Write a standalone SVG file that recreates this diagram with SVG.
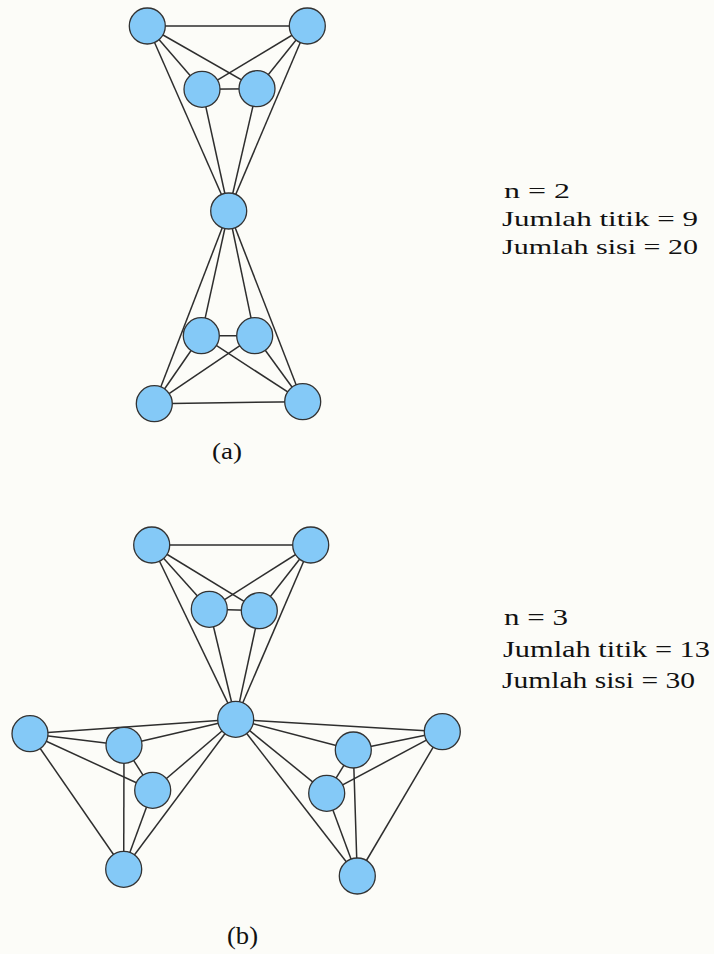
<svg xmlns="http://www.w3.org/2000/svg" width="714" height="954" viewBox="0 0 714 954">
<style>
.e{stroke:#2e2e2e;stroke-width:1.5;fill:none}
.n{fill:#84c9f7;stroke:#333;stroke-width:1.3}
.t{font-family:"Liberation Serif","Times New Roman",serif;fill:#111}
</style>
<rect width="714" height="954" fill="#fcfcf8"/>
<g id="connectors">
<line class="e" x1="147.3" y1="26" x2="307.3" y2="26"/>
<line class="e" x1="147.3" y1="26" x2="202" y2="89.3"/>
<line class="e" x1="147.3" y1="26" x2="257" y2="88.7"/>
<line class="e" x1="307.3" y1="26" x2="202" y2="89.3"/>
<line class="e" x1="307.3" y1="26" x2="257" y2="88.7"/>
<line class="e" x1="202" y1="89.3" x2="257" y2="88.7"/>
<line class="e" x1="147.3" y1="26" x2="228.7" y2="211"/>
<line class="e" x1="307.3" y1="26" x2="228.7" y2="211"/>
<line class="e" x1="202" y1="89.3" x2="228.7" y2="211"/>
<line class="e" x1="257" y1="88.7" x2="228.7" y2="211"/>
<line class="e" x1="154.3" y1="403.7" x2="302.7" y2="401.7"/>
<line class="e" x1="154.3" y1="403.7" x2="201.3" y2="335.7"/>
<line class="e" x1="154.3" y1="403.7" x2="254.7" y2="335.7"/>
<line class="e" x1="302.7" y1="401.7" x2="201.3" y2="335.7"/>
<line class="e" x1="302.7" y1="401.7" x2="254.7" y2="335.7"/>
<line class="e" x1="201.3" y1="335.7" x2="254.7" y2="335.7"/>
<line class="e" x1="228.7" y1="211" x2="154.3" y2="403.7"/>
<line class="e" x1="228.7" y1="211" x2="302.7" y2="401.7"/>
<line class="e" x1="228.7" y1="211" x2="201.3" y2="335.7"/>
<line class="e" x1="228.7" y1="211" x2="254.7" y2="335.7"/>
<line class="e" x1="151.7" y1="545" x2="310.7" y2="545"/>
<line class="e" x1="151.7" y1="545" x2="209.3" y2="609.3"/>
<line class="e" x1="151.7" y1="545" x2="259.3" y2="610.7"/>
<line class="e" x1="310.7" y1="545" x2="209.3" y2="609.3"/>
<line class="e" x1="310.7" y1="545" x2="259.3" y2="610.7"/>
<line class="e" x1="209.3" y1="609.3" x2="259.3" y2="610.7"/>
<line class="e" x1="151.7" y1="545" x2="235.7" y2="719.3"/>
<line class="e" x1="310.7" y1="545" x2="235.7" y2="719.3"/>
<line class="e" x1="209.3" y1="609.3" x2="235.7" y2="719.3"/>
<line class="e" x1="259.3" y1="610.7" x2="235.7" y2="719.3"/>
<line class="e" x1="30" y1="733.7" x2="235.7" y2="719.3"/>
<line class="e" x1="30" y1="733.7" x2="124" y2="745.3"/>
<line class="e" x1="30" y1="733.7" x2="152.7" y2="790.3"/>
<line class="e" x1="30" y1="733.7" x2="123.7" y2="869.3"/>
<line class="e" x1="124" y1="745.3" x2="235.7" y2="719.3"/>
<line class="e" x1="124" y1="745.3" x2="152.7" y2="790.3"/>
<line class="e" x1="124" y1="745.3" x2="123.7" y2="869.3"/>
<line class="e" x1="152.7" y1="790.3" x2="235.7" y2="719.3"/>
<line class="e" x1="152.7" y1="790.3" x2="123.7" y2="869.3"/>
<line class="e" x1="123.7" y1="869.3" x2="235.7" y2="719.3"/>
<line class="e" x1="442.3" y1="731.7" x2="235.7" y2="719.3"/>
<line class="e" x1="442.3" y1="731.7" x2="353.3" y2="750"/>
<line class="e" x1="442.3" y1="731.7" x2="326.7" y2="793.3"/>
<line class="e" x1="442.3" y1="731.7" x2="357.3" y2="876"/>
<line class="e" x1="353.3" y1="750" x2="235.7" y2="719.3"/>
<line class="e" x1="353.3" y1="750" x2="326.7" y2="793.3"/>
<line class="e" x1="353.3" y1="750" x2="357.3" y2="876"/>
<line class="e" x1="326.7" y1="793.3" x2="235.7" y2="719.3"/>
<line class="e" x1="326.7" y1="793.3" x2="357.3" y2="876"/>
<line class="e" x1="357.3" y1="876" x2="235.7" y2="719.3"/>
</g>
<g id="a-tl"><circle class="n" cx="147.3" cy="26" r="18"/></g>
<g id="a-tr"><circle class="n" cx="307.3" cy="26" r="18"/></g>
<g id="a-il"><circle class="n" cx="202" cy="89.3" r="18"/></g>
<g id="a-ir"><circle class="n" cx="257" cy="88.7" r="18"/></g>
<g id="a-m"><circle class="n" cx="228.7" cy="211" r="18"/></g>
<g id="a-bil"><circle class="n" cx="201.3" cy="335.7" r="18"/></g>
<g id="a-bir"><circle class="n" cx="254.7" cy="335.7" r="18"/></g>
<g id="a-bl"><circle class="n" cx="154.3" cy="403.7" r="18"/></g>
<g id="a-br"><circle class="n" cx="302.7" cy="401.7" r="18"/></g>
<g id="b-tl"><circle class="n" cx="151.7" cy="545" r="18"/></g>
<g id="b-tr"><circle class="n" cx="310.7" cy="545" r="18"/></g>
<g id="b-il"><circle class="n" cx="209.3" cy="609.3" r="18"/></g>
<g id="b-ir"><circle class="n" cx="259.3" cy="610.7" r="18"/></g>
<g id="b-c"><circle class="n" cx="235.7" cy="719.3" r="18"/></g>
<g id="b-l1"><circle class="n" cx="30" cy="733.7" r="18"/></g>
<g id="b-l2"><circle class="n" cx="124" cy="745.3" r="18"/></g>
<g id="b-l3"><circle class="n" cx="152.7" cy="790.3" r="18"/></g>
<g id="b-l4"><circle class="n" cx="123.7" cy="869.3" r="18"/></g>
<g id="b-r1"><circle class="n" cx="442.3" cy="731.7" r="18"/></g>
<g id="b-r2"><circle class="n" cx="353.3" cy="750" r="18"/></g>
<g id="b-r3"><circle class="n" cx="326.7" cy="793.3" r="18"/></g>
<g id="b-r4"><circle class="n" cx="357.3" cy="876" r="18"/></g>
<g id="text-a">
<text class="t" x="504" y="198" font-size="22" textLength="66" lengthAdjust="spacingAndGlyphs">n = 2</text>
<text class="t" x="502" y="226" font-size="22" textLength="196" lengthAdjust="spacingAndGlyphs">Jumlah titik = 9</text>
<text class="t" x="502" y="254" font-size="22" textLength="196" lengthAdjust="spacingAndGlyphs">Jumlah sisi = 20</text>
<text class="t" x="212" y="459" font-size="24" textLength="30" lengthAdjust="spacingAndGlyphs">(a)</text>
</g>
<g id="text-b">
<text class="t" x="504" y="625" font-size="24" textLength="64" lengthAdjust="spacingAndGlyphs">n = 3</text>
<text class="t" x="503" y="656.5" font-size="24" textLength="207" lengthAdjust="spacingAndGlyphs">Jumlah titik = 13</text>
<text class="t" x="502" y="688" font-size="24" textLength="193" lengthAdjust="spacingAndGlyphs">Jumlah sisi = 30</text>
<text class="t" x="227" y="944" font-size="25" textLength="31" lengthAdjust="spacingAndGlyphs">(b)</text>
</g>
</svg>
